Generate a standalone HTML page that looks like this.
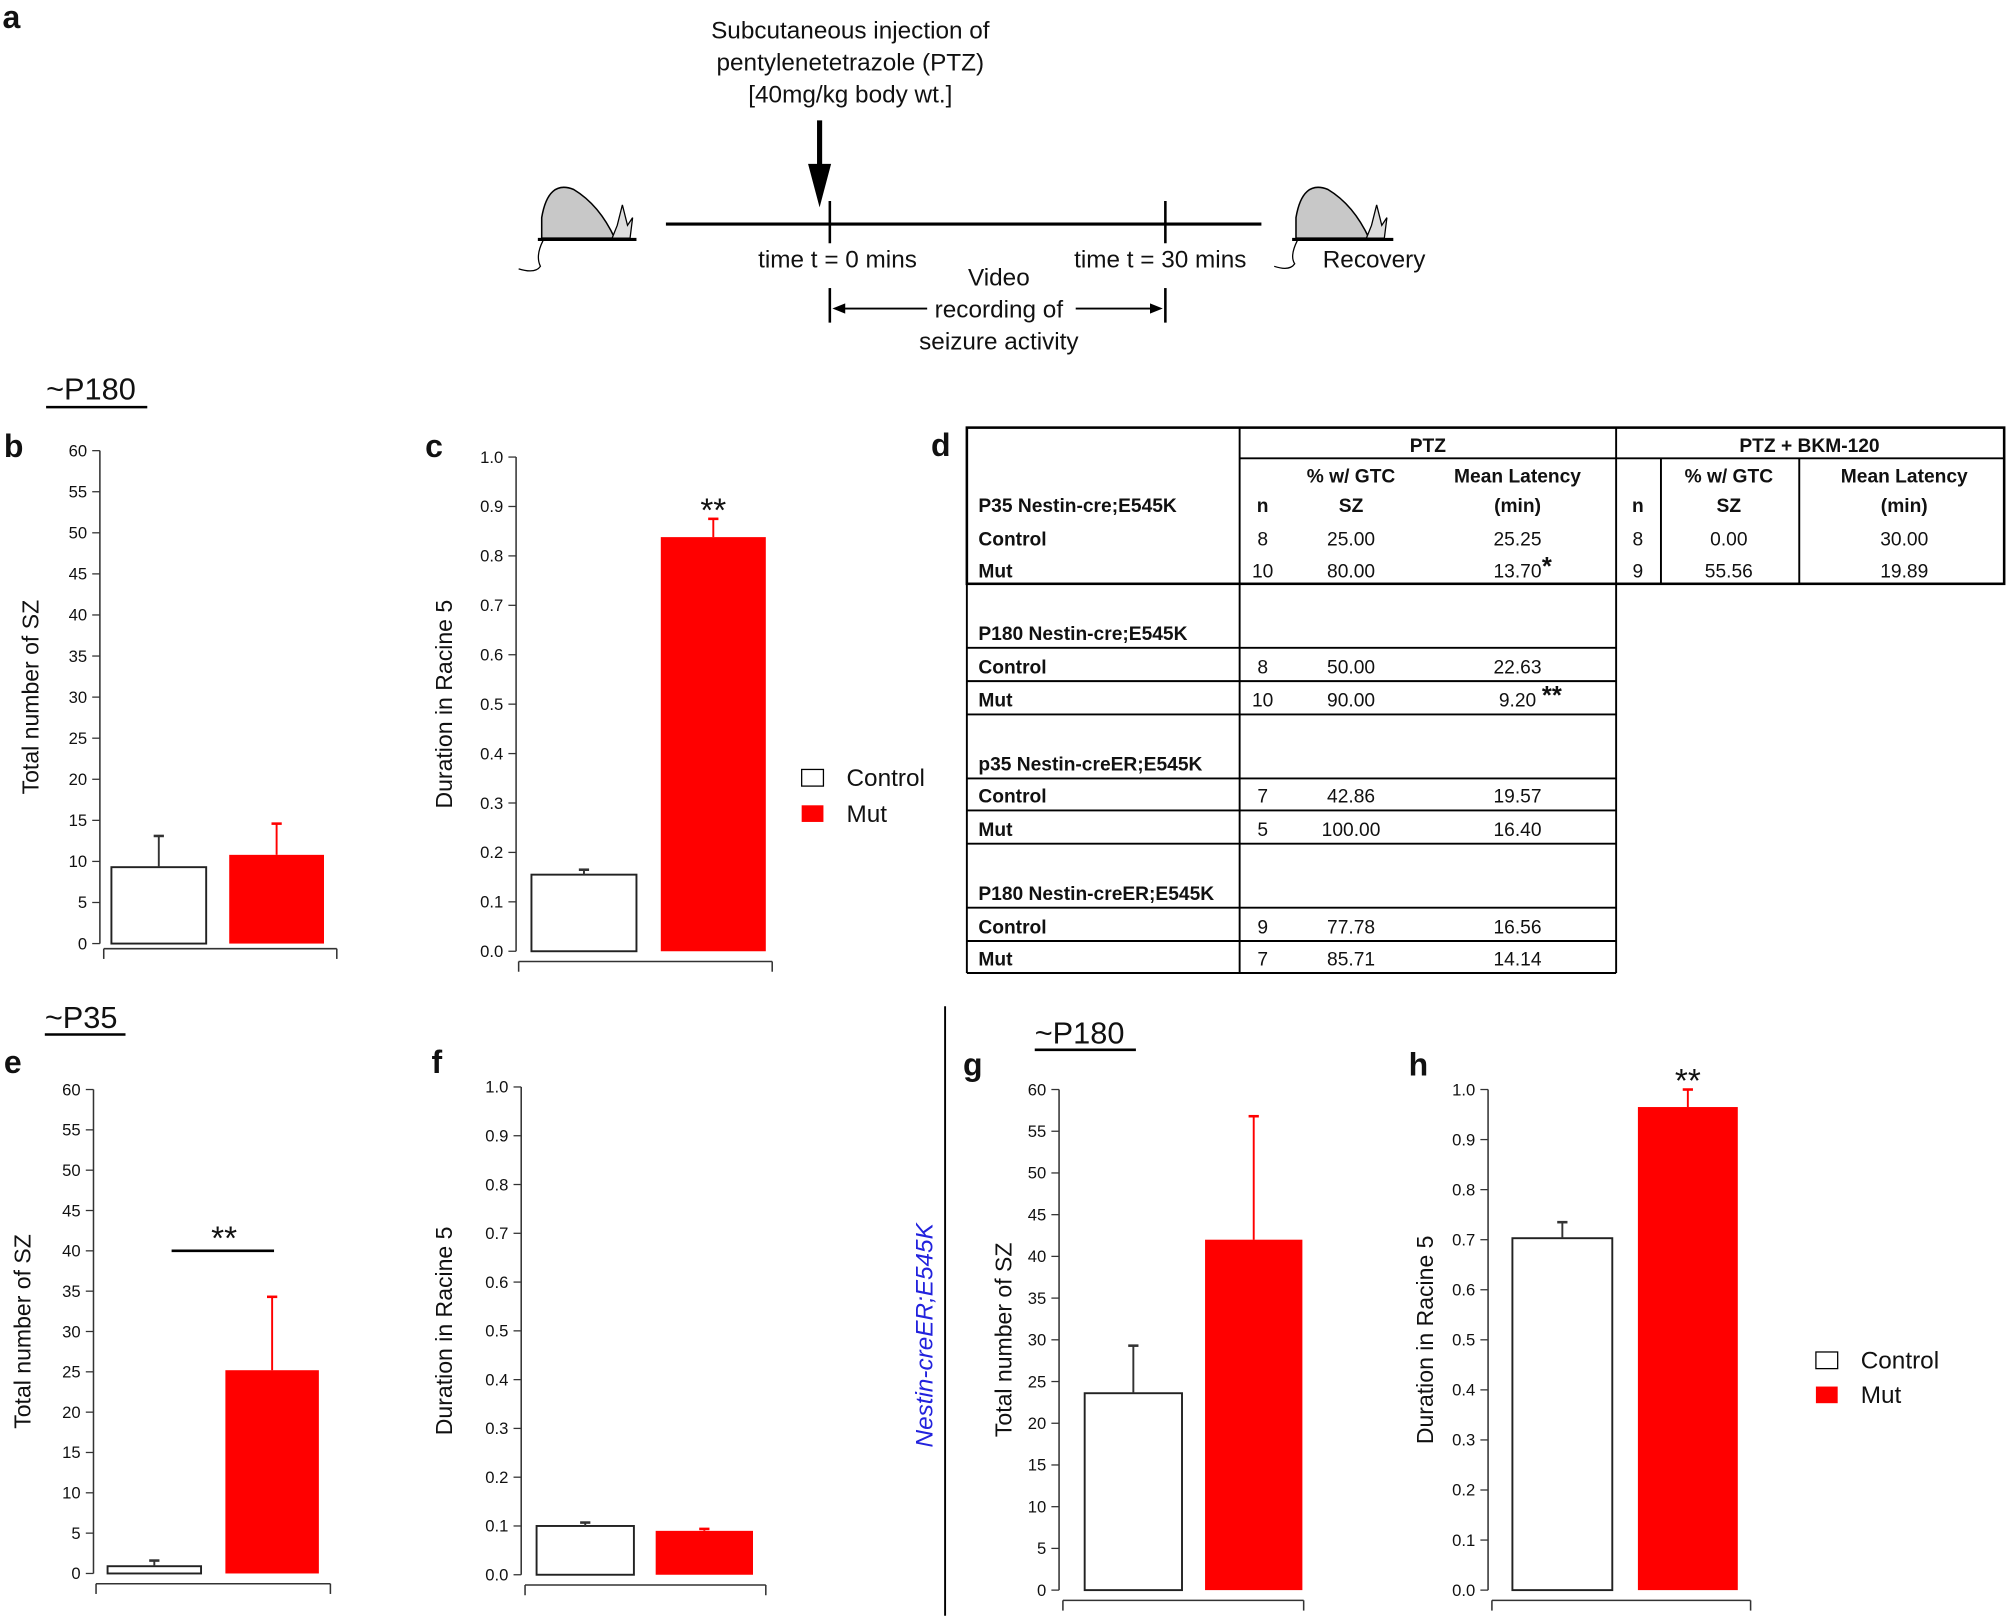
<!DOCTYPE html>
<html><head><meta charset="utf-8"><style>
html,body{margin:0;padding:0;background:#fff}
svg{display:block}
text{font-family:"Liberation Sans",sans-serif;fill:#111}
.tk{font-size:13px}
.tt{font-size:18px}
.big{font-size:19px}
.hdr{font-size:24px}
.pl{font-size:25px;font-weight:bold}
.tb{font-size:15px;font-family:"Liberation Sans Narrow","Liberation Sans",sans-serif}
</style></head><body>
<svg id="fig" width="2008" height="1617" viewBox="0 0 1568 1263" preserveAspectRatio="none" xmlns="http://www.w3.org/2000/svg">
<!-- Panel a -->
<g>
<text class="pl" x="2" y="22">a</text>
<text class="big" x="664" y="30" text-anchor="middle">Subcutaneous injection of</text>
<text class="big" x="664" y="55" text-anchor="middle">pentylenetetrazole (PTZ)</text>
<text class="big" x="664" y="80" text-anchor="middle">[40mg/kg body wt.]</text>
<line x1="640" y1="94" x2="640" y2="132" stroke="#000" stroke-width="4"/>
<polygon points="631,128 649,128 640,162" fill="#000"/>
<line x1="520" y1="175" x2="985" y2="175" stroke="#000" stroke-width="2.5"/>
<line x1="648" y1="157" x2="648" y2="190" stroke="#000" stroke-width="2"/>
<line x1="910" y1="157" x2="910" y2="190" stroke="#000" stroke-width="2"/>
<text class="big" x="654" y="209" text-anchor="middle">time t = 0 mins</text>
<text class="big" x="906" y="209" text-anchor="middle">time t = 30 mins</text>
<text class="big" x="1073" y="209" text-anchor="middle">Recovery</text>
<text class="big" x="780" y="223" text-anchor="middle">Video</text>
<text class="big" x="780" y="248" text-anchor="middle">recording of</text>
<text class="big" x="780" y="273" text-anchor="middle">seizure activity</text>
<line x1="648" y1="225" x2="648" y2="252" stroke="#000" stroke-width="2"/>
<line x1="910" y1="225" x2="910" y2="252" stroke="#000" stroke-width="2"/>
<line x1="652" y1="241" x2="724" y2="241" stroke="#000" stroke-width="1.5"/>
<polygon points="650,241 660,237 660,245" fill="#000"/>
<line x1="840" y1="241" x2="906" y2="241" stroke="#000" stroke-width="1.5"/>
<polygon points="908,241 898,237 898,245" fill="#000"/>
<g>
<path d="M423,186 L423,170 Q428,140 448,148 Q468,160 480,186 Z" fill="#c8c8c8" stroke="#000" stroke-width="1.2"/>
<path d="M478,186 L482,176 L486,160 L490,176 L494,170 L492,186Z" fill="#ddd" stroke="#000" stroke-width="1"/>
<line x1="420" y1="187" x2="497" y2="187" stroke="#000" stroke-width="2.5"/>
<path d="M424,188 Q418,200 422,208 Q418,214 405,210" fill="none" stroke="#000" stroke-width="1"/>
</g>
<g>
<path d="M1012,186 L1012,170 Q1017,140 1037,148 Q1057,160 1069,186 Z" fill="#c8c8c8" stroke="#000" stroke-width="1.2"/>
<path d="M1067,186 L1071,176 L1075,160 L1079,176 L1083,170 L1081,186Z" fill="#ddd" stroke="#000" stroke-width="1"/>
<line x1="1009" y1="187" x2="1088" y2="187" stroke="#000" stroke-width="2.5"/>
<path d="M1013,188 Q1007,200 1011,206 Q1007,212 995,208" fill="none" stroke="#000" stroke-width="1"/>
</g>
</g>

<!-- section headers -->
<text class="hdr" x="36" y="312">~P180</text>
<line x1="36" y1="318" x2="115" y2="318" stroke="#000" stroke-width="2"/>
<text class="hdr" x="35" y="803">~P35</text>
<line x1="35" y1="808" x2="98" y2="808" stroke="#000" stroke-width="2"/>
<text class="hdr" x="808" y="815">~P180</text>
<line x1="808" y1="820" x2="887" y2="820" stroke="#000" stroke-width="2"/>
<line x1="738" y1="786" x2="738" y2="1262" stroke="#000" stroke-width="1.5"/>
<text class="big" x="728" y="1043" font-style="italic" style="fill:#2222dd" text-anchor="middle" transform="rotate(-90 728 1043)">Nestin-creER;E545K</text>

<!-- legends -->
<g>
<rect x="626" y="601" width="17" height="13" fill="#fff" stroke="#000"/><text class="big" x="661" y="614">Control</text>
<rect x="626" y="629" width="17" height="13" fill="#f00"/><text class="big" x="661" y="642">Mut</text>
</g>
<g>
<rect x="1418" y="1056" width="17" height="13" fill="#fff" stroke="#000"/><text class="big" x="1453" y="1069">Control</text>
<rect x="1418" y="1083" width="17" height="13" fill="#f00"/><text class="big" x="1453" y="1096">Mut</text>
</g>

<!-- Table d -->
<g id="tbl" stroke="#000" stroke-width="1.5">
<text class="pl" x="727" y="356" stroke="none">d</text>
<rect x="755" y="334" width="810" height="122" fill="none" stroke-width="2"/>
<line x1="968" y1="334" x2="968" y2="760"/>
<line x1="1262" y1="334" x2="1262" y2="760"/>
<line x1="968" y1="358" x2="1565" y2="358"/>
<line x1="1297" y1="358" x2="1297" y2="456"/>
<line x1="1405" y1="358" x2="1405" y2="456"/>
<line x1="755" y1="456" x2="755" y2="760"/>
<line x1="755" y1="506" x2="1262" y2="506"/>
<line x1="755" y1="532" x2="1262" y2="532"/>
<line x1="755" y1="558" x2="1262" y2="558"/>
<line x1="755" y1="608" x2="1262" y2="608"/>
<line x1="755" y1="633" x2="1262" y2="633"/>
<line x1="755" y1="659" x2="1262" y2="659"/>
<line x1="755" y1="709" x2="1262" y2="709"/>
<line x1="755" y1="735" x2="1262" y2="735"/>
<line x1="755" y1="760" x2="1262" y2="760"/>
<g stroke="none">
<text class="tb" x="1115" y="353" text-anchor="middle" font-weight="bold">PTZ</text>
<text class="tb" x="1413" y="353" text-anchor="middle" font-weight="bold">PTZ + BKM-120</text>
<text class="tb" x="1055" y="377" text-anchor="middle" font-weight="bold">% w/ GTC</text>
<text class="tb" x="1185" y="377" text-anchor="middle" font-weight="bold">Mean Latency</text>
<text class="tb" x="1350" y="377" text-anchor="middle" font-weight="bold">% w/ GTC</text>
<text class="tb" x="1487" y="377" text-anchor="middle" font-weight="bold">Mean Latency</text>
<text class="tb" x="764" y="400" font-weight="bold">P35 Nestin-cre;E545K</text>
<text class="tb" x="986" y="400" text-anchor="middle" font-weight="bold">n</text>
<text class="tb" x="1055" y="400" text-anchor="middle" font-weight="bold">SZ</text>
<text class="tb" x="1185" y="400" text-anchor="middle" font-weight="bold">(min)</text>
<text class="tb" x="1279" y="400" text-anchor="middle" font-weight="bold">n</text>
<text class="tb" x="1350" y="400" text-anchor="middle" font-weight="bold">SZ</text>
<text class="tb" x="1487" y="400" text-anchor="middle" font-weight="bold">(min)</text>
</g>
<g id="tbody" stroke="none"></g>
</g>

<g id="charts"></g>
</svg>
<script>
var NS="http://www.w3.org/2000/svg";
function mk(tag,attrs,parent){var e=document.createElementNS(NS,tag);for(var k in attrs)e.setAttribute(k,attrs[k]);(parent||document.getElementById('charts')).appendChild(e);return e;}

// ---- table data ----
var tblLabels=["Control","Mut","P180  Nestin-cre;E545K","Control","Mut","p35 Nestin-creER;E545K","Control","Mut","P180 Nestin-creER;E545K","Control","Mut"];
var tblN=["8","10","","8","10","","7","5","","9","7"];
var tblPct=["25.00","80.00","","50.00","90.00","","42.86","100.00","","77.78","85.71"];
var tblLat=["25.25","13.70","","22.63","9.20","","19.57","16.40","","16.56","14.14"];
var tblStars=["","*","","","**","","","","","",""];
var tblY=[426,451,500,526,552,602,627,653,703,729,754];
var bkmN=["8","9"],bkmPct=["0.00","55.56"],bkmLat=["30.00","19.89"];
var tb=document.getElementById('tbody');
for(var i=0;i<tblLabels.length;i++){
  var y=tblY[i];
  var t=mk('text',{x:764,y:y,'class':'tb','font-weight':'bold'},tb);t.textContent=tblLabels[i];
  
  
  if(tblN[i]){
    t=mk('text',{x:986,y:y,'class':'tb','text-anchor':'middle'},tb);t.textContent=tblN[i];
    t=mk('text',{x:1055,y:y,'class':'tb','text-anchor':'middle'},tb);t.textContent=tblPct[i];
    t=mk('text',{x:1185,y:y,'class':'tb','text-anchor':'middle'},tb);t.textContent=tblLat[i];
    if(tblStars[i]){t=mk('text',{x:1204,y:y-2,'font-size':'20','font-weight':'bold'},tb);t.textContent=tblStars[i];}
  }
}
for(var j=0;j<2;j++){
  var y=tblY[j];
  var t=mk('text',{x:1279,y:y,'class':'tb','text-anchor':'middle'},tb);t.textContent=bkmN[j];
  t=mk('text',{x:1350,y:y,'class':'tb','text-anchor':'middle'},tb);t.textContent=bkmPct[j];
  t=mk('text',{x:1487,y:y,'class':'tb','text-anchor':'middle'},tb);t.textContent=bkmLat[j];
}

// ---- chart data ----
var categories=["Control","Mut"];
var bValues=[9.3,10.8], bErr=[3.8,3.8];
var cValues=[0.155,0.838], cErr=[0.01,0.037];
var eValues=[0.9,25.2], eErr=[0.7,9.1];
var fValues=[0.1,0.09], fErr=[0.007,0.004];
var gValues=[23.6,42.0], gErr=[5.7,14.8];
var hValues=[0.703,0.965], hErr=[0.032,0.035];
var countTicks=["0","5","10","15","20","25","30","35","40","45","50","55","60"];
var fracTicks=["0.0","0.1","0.2","0.3","0.4","0.5","0.6","0.7","0.8","0.9","1.0"];

var panels=[
 {id:'b',vals:bValues,err:bErr,ticks:countTicks,max:60,ax:78,top:352,bot:737,xb:[81,263],bar:[87,179],bw:74,title:"Total number of SZ",tx:30,lab:[3,357],star:""},
 {id:'c',vals:cValues,err:cErr,ticks:fracTicks,max:1,ax:403,top:357,bot:743,xb:[405,603],bar:[415,516],bw:82,title:"Duration in Racine 5",tx:353,lab:[332,357],star:"**"},
 {id:'e',vals:eValues,err:eErr,ticks:countTicks,max:60,ax:73,top:851,bot:1229,xb:[75,258],bar:[84,176],bw:73,title:"Total number of SZ",tx:24,lab:[3,838],star:""},
 {id:'f',vals:fValues,err:fErr,ticks:fracTicks,max:1,ax:407,top:849,bot:1230,xb:[410,598],bar:[419,512],bw:76,title:"Duration in Racine 5",tx:353,lab:[337,838],star:""},
 {id:'g',vals:gValues,err:gErr,ticks:countTicks,max:60,ax:827,top:851,bot:1242,xb:[830,1018],bar:[847,941],bw:76,title:"Total number of SZ",tx:790,lab:[752,840],star:""},
 {id:'h',vals:hValues,err:hErr,ticks:fracTicks,max:1,ax:1162,top:851,bot:1242,xb:[1165,1367],bar:[1181,1279],bw:78,title:"Duration in Racine 5",tx:1119,lab:[1100,840],star:"**"}
];
panels.forEach(function(p){
  var g=mk('g',{});
  
  
  function ys(v){return p.bot-(v/p.max)*(p.bot-p.top);}
  var l=mk('text',{x:p.lab[0],y:p.lab[1],'class':'pl'},g);l.textContent=p.id;
  mk('line',{x1:p.ax,y1:p.top,x2:p.ax,y2:p.bot,stroke:'#333','stroke-width':1.2},g);
  p.ticks.forEach(function(tl){
    var v=parseFloat(tl),y=ys(v);
    mk('line',{x1:p.ax-6,y1:y,x2:p.ax,y2:y,stroke:'#333','stroke-width':1},g);
    var t=mk('text',{x:p.ax-10,y:y+4.5,'class':'tk','text-anchor':'end'},g);t.textContent=tl;
    
    
  });
  var xb=p.bot+(p.id=='b'?4:8);
  mk('line',{x1:p.xb[0],y1:xb,x2:p.xb[1],y2:xb,stroke:'#333','stroke-width':1.2},g);
  mk('line',{x1:p.xb[0],y1:xb,x2:p.xb[0],y2:xb+8,stroke:'#333','stroke-width':1.2},g);
  mk('line',{x1:p.xb[1],y1:xb,x2:p.xb[1],y2:xb+8,stroke:'#333','stroke-width':1.2},g);
  var cy=(p.top+p.bot)/2;
  var tt=mk('text',{x:p.tx,y:cy,'class':'tt','text-anchor':'middle',transform:'rotate(-90 '+p.tx+' '+cy+')'},g);tt.textContent=p.title;
  
  
  categories.forEach(function(c,i){
    var x=p.bar[i],y=ys(p.vals[i]),col=i==0?'#333':'#f00';
    var r=mk('rect',{x:x,y:y,width:p.bw,height:p.bot-y,fill:i==0?'#fff':'#f00',stroke:i==0?'#222':'none','stroke-width':1.5},g);
    
    
    var cx=x+p.bw/2,ye=ys(p.vals[i]+p.err[i]);
    mk('line',{x1:cx,y1:y,x2:cx,y2:ye,stroke:col,'stroke-width':1.5},g);
    mk('line',{x1:cx-4,y1:ye,x2:cx+4,y2:ye,stroke:col,'stroke-width':2},g);
  });
  if(p.star){
    var sx=p.bar[1]+p.bw/2,sy=ys(p.vals[1]+p.err[1])-10;
    var s=mk('text',{x:sx,y:sy+12,'font-size':'26','text-anchor':'middle'},g);s.textContent=p.star;
  }
  if(p.id=='e'){
    var ly=ys(40);
    mk('line',{x1:134,y1:ly,x2:214,y2:ly,stroke:'#000','stroke-width':2},g);
    var s2=mk('text',{x:175,y:ly-1,'font-size':'26','text-anchor':'middle'},g);s2.textContent="**";
  }
});
</script>
</body></html>
